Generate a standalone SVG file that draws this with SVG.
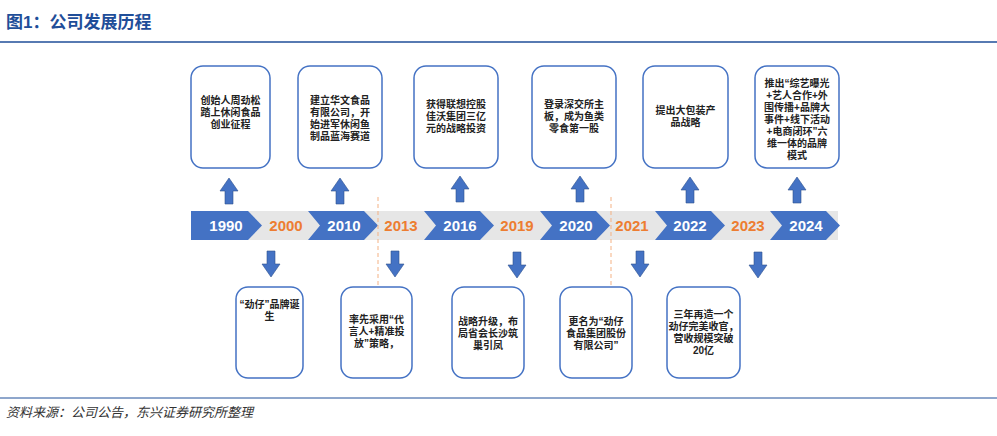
<svg xmlns="http://www.w3.org/2000/svg" width="997" height="436" viewBox="0 0 997 436">
<style>
text{font-family:"Liberation Sans","Noto Sans CJK SC",sans-serif}
.t{font-size:10px;font-weight:bold;fill:#222;text-anchor:middle}
.box{fill:#fff;stroke:#4472c4;stroke-width:1.5}
.ch{fill:#4472c4}
.yw{font-size:15px;font-weight:bold;fill:#fff;text-anchor:middle}
.yo{font-size:15px;font-weight:bold;fill:#ed7d31;text-anchor:middle}
.ar{fill:#4472c4;stroke:#2f528f;stroke-width:0.6}
</style>
<defs>
<path id="up" d="M-4,13 L-4,0 L-9,0 L0,-13 L9,0 L4,0 L4,13 Z"/>
<path id="dn" d="M-4,-13 L-4,0 L-9,0 L0,13 L9,0 L4,0 L4,-13 Z"/>
</defs>
<text x="6" y="28" font-size="17" font-weight="bold" fill="#1f4e99">图1：公司发展历程</text>
<line x1="0" y1="42" x2="997" y2="42" stroke="#1f4e99" stroke-width="1.5"/>
<line x1="0" y1="398" x2="997" y2="398" stroke="#1f4e99" stroke-width="1"/>
<text x="6" y="417" font-size="13" font-style="italic" fill="#333">资料来源：公司公告，东兴证券研究所整理</text>

<g id="timeline">
<rect x="191" y="211" width="647" height="29" fill="#e6e6e6"/>
<path class="ch" d="M191,211 H248 L262,225.5 L248,240 H191 Z"/>
<path class="ch" d="M308,211 H364 L378,225.5 L364,240 H308 L320,225.5 Z"/>
<path class="ch" d="M424,211 H480 L494,225.5 L480,240 H424 L436,225.5 Z"/>
<path class="ch" d="M540,211 H596 L610,225.5 L596,240 H540 L552,225.5 Z"/>
<path class="ch" d="M655,211 H711 L725,225.5 L711,240 H655 L667,225.5 Z"/>
<path class="ch" d="M770,211 H826 L840,225.5 L826,240 H770 L782,225.5 Z"/>
<text class="yw" x="226" y="231">1990</text>
<text class="yo" x="286" y="231">2000</text>
<text class="yw" x="344" y="231">2010</text>
<text class="yo" x="401" y="231">2013</text>
<text class="yw" x="460" y="231">2016</text>
<text class="yo" x="517" y="231">2019</text>
<text class="yw" x="576" y="231">2020</text>
<text class="yo" x="632" y="231">2021</text>
<text class="yw" x="690" y="231">2022</text>
<text class="yo" x="748" y="231">2023</text>
<text class="yw" x="806" y="231">2024</text>
<line x1="378" y1="197" x2="378" y2="285" stroke="#f4b183" stroke-dasharray="4,3"/>
<line x1="611" y1="197" x2="611" y2="285" stroke="#f4b183" stroke-dasharray="4,3"/>
</g>

<g id="connectors">
<use href="#up" class="ar" x="229" y="191"/>
<use href="#up" class="ar" x="340" y="191"/>
<use href="#up" class="ar" x="460" y="189"/>
<use href="#up" class="ar" x="580" y="189"/>
<use href="#up" class="ar" x="690" y="190"/>
<use href="#up" class="ar" x="797" y="190"/>
<use href="#dn" class="ar" x="271" y="264"/>
<use href="#dn" class="ar" x="395" y="264"/>
<use href="#dn" class="ar" x="517" y="265"/>
<use href="#dn" class="ar" x="640" y="264"/>
<use href="#dn" class="ar" x="758" y="265"/>
</g>

<g id="n1990"><rect class="box" x="191" y="66" width="79" height="102" rx="12"/>
<text class="t" x="230.5" y="104">创始人周劲松</text><text class="t" x="230.5" y="116">踏上休闲食品</text><text class="t" x="230.5" y="128">创业征程</text></g>
<g id="n2010"><rect class="box" x="298" y="66" width="84" height="102" rx="12"/>
<text class="t" x="340" y="104">建立华文食品</text><text class="t" x="340" y="116">有限公司，开</text><text class="t" x="340" y="128">始进军休闲鱼</text><text class="t" x="340" y="140">制品蓝海赛道</text></g>
<g id="n2016"><rect class="box" x="414" y="66" width="84" height="102" rx="12"/>
<text class="t" x="456" y="108">获得联想控股</text><text class="t" x="456" y="120">佳沃集团三亿</text><text class="t" x="456" y="132">元的战略投资</text></g>
<g id="n2020"><rect class="box" x="532" y="66" width="84" height="102" rx="12"/>
<text class="t" x="574" y="108">登录深交所主</text><text class="t" x="574" y="120">板，成为鱼类</text><text class="t" x="574" y="132">零食第一股</text></g>
<g id="n2022"><rect class="box" x="643" y="66" width="85" height="102" rx="12"/>
<text class="t" x="685.5" y="114">提出大包装产</text><text class="t" x="685.5" y="126">品战略</text></g>
<g id="n2024"><rect class="box" x="755" y="66" width="84" height="102" rx="12"/>
<text class="t" x="797" y="87">推出“综艺曝光</text><text class="t" x="797" y="99">+艺人合作+外</text><text class="t" x="797" y="111">围传播+品牌大</text><text class="t" x="797" y="123">事件+线下活动</text><text class="t" x="797" y="135">+电商闭环”六</text><text class="t" x="797" y="147">维一体的品牌</text><text class="t" x="797" y="159">模式</text></g>

<g id="n2000"><rect class="box" x="236" y="287" width="67" height="91" rx="12"/>
<text class="t" x="269.5" y="308">“劲仔”品牌诞</text><text class="t" x="269.5" y="320">生</text></g>
<g id="n2013"><rect class="box" x="341" y="287" width="71" height="91" rx="12"/>
<text class="t" x="376.5" y="323">率先采用“代</text><text class="t" x="376.5" y="335">言人+精准投</text><text class="t" x="376.5" y="347">放”策略，</text></g>
<g id="n2019"><rect class="box" x="452" y="287" width="72" height="91" rx="12"/>
<text class="t" x="488" y="325">战略升级，布</text><text class="t" x="488" y="337">局省会长沙筑</text><text class="t" x="488" y="349">巢引凤</text></g>
<g id="n2021"><rect class="box" x="560" y="287" width="72" height="91" rx="12"/>
<text class="t" x="596" y="325">更名为“劲仔</text><text class="t" x="596" y="337">食品集团股份</text><text class="t" x="596" y="349">有限公司”</text></g>
<g id="n2023"><rect class="box" x="667" y="287" width="73" height="91" rx="12"/>
<text class="t" x="703.5" y="318">三年再造一个</text><text class="t" x="703.5" y="330">劲仔完美收官，</text><text class="t" x="703.5" y="342">营收规模突破</text><text class="t" x="703.5" y="354">20亿</text></g>
</svg>
